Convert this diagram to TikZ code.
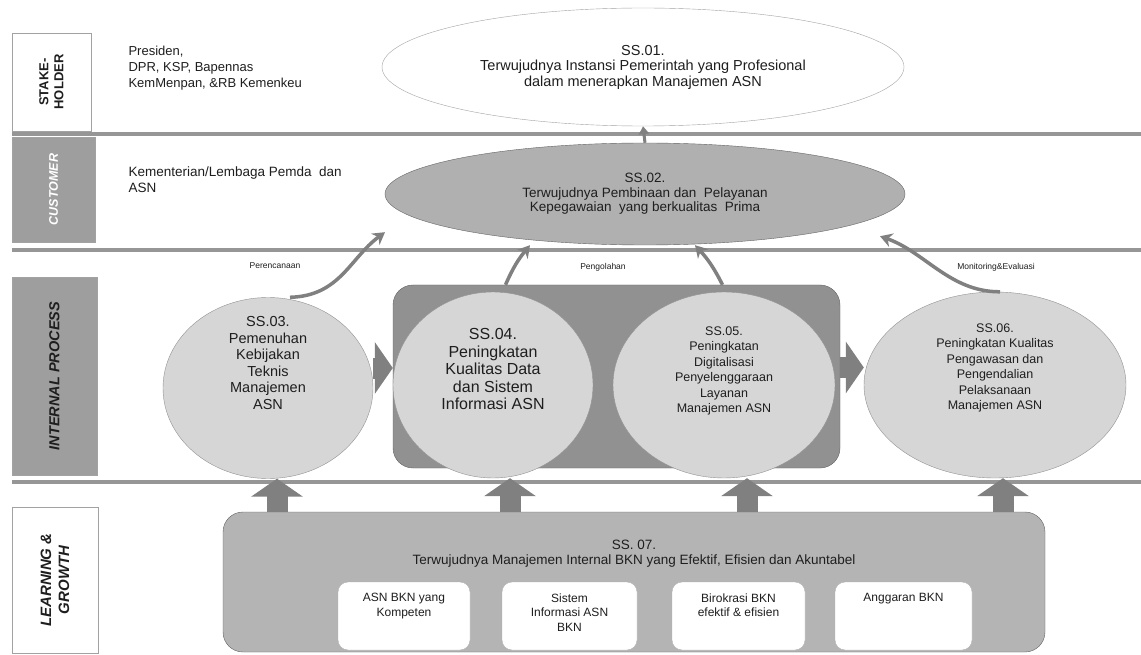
\documentclass[tikz,border=0pt]{standalone}
\usepackage{fontspec}
\setmainfont{Liberation Sans}
\usepackage{tikz}
\usetikzlibrary{shapes.geometric,arrows.meta,positioning,calc}
\definecolor{bandgray}{RGB}{150,150,150}
\definecolor{tabgray}{RGB}{158,158,158}
\definecolor{ovalgray}{RGB}{176,176,176}
\definecolor{bubblegray}{RGB}{214,214,214}
\definecolor{groupgray}{RGB}{145,145,145}
\definecolor{basegray}{RGB}{180,180,180}
\definecolor{edgegray}{RGB}{100,100,100}
\definecolor{arrowgray}{RGB}{128,128,128}
\definecolor{inkgray}{RGB}{30,30,30}
\tikzset{
  sidetab/.style={rectangle,draw=edgegray!60,fill=#1,rotate=90,align=center,
    font=\bfseries\itshape,text=inkgray,inner sep=1pt},
  bandline/.style={line width=3.5pt,color=bandgray},
  goaloval/.style={ellipse,draw=edgegray,fill=#1,align=center,inner sep=0pt,
    text=inkgray},
  bubble/.style={ellipse,draw=edgegray!70,fill=bubblegray,inner sep=0pt},
  bubbletext/.style={align=center,text=inkgray,inner sep=0pt},
  groupbox/.style={rectangle,rounded corners=20pt,draw=edgegray,fill=groupgray},
  basebox/.style={rectangle,rounded corners=20pt,draw=edgegray,fill=basegray},
  pillarbox/.style={rectangle,rounded corners=10pt,draw=edgegray!50,fill=white,
    minimum height=68pt},
  pillartext/.style={align=center,font=\fontsize{12}{14.5}\selectfont,text=inkgray},
  blockarrow/.style={-{Triangle[length=18pt,width=51pt]},line width=21pt,
    color=arrowgray},
  flowarrow/.style={-{Stealth[length=12pt,width=14pt]},line width=3.5pt,
    color=arrowgray},
  flowlabel/.style={font=\fontsize{8.5}{9}\selectfont,text=inkgray},
}
\begin{document}
\begin{tikzpicture}[x=1pt,y=-1pt]
\path[use as bounding box,fill=white] (0,0) rectangle (1141,655);

% ── Perspective tabs (left column) ───────────────────────────────────────
\node[sidetab=white, minimum width=98pt, minimum height=79pt,
      font=\fontsize{13}{15}\selectfont\bfseries] (stake) at (51.5,82) {STAKE-\\HOLDER};
\node[sidetab=tabgray, minimum width=105pt, minimum height=83pt, text=white,
      font=\fontsize{12.5}{14}\selectfont\bfseries\itshape] (cust) at (53.5,189.5) {CUSTOMER};
\node[sidetab=tabgray, minimum width=198pt, minimum height=85pt,
      font=\fontsize{14.5}{16}\selectfont\bfseries\itshape] (intern) at (54.5,376) {INTERNAL PROCESS};
\node[sidetab=white, minimum width=146pt, minimum height=86pt,
      font=\fontsize{15}{18}\selectfont\bfseries\itshape] (learn) at (55,580) {LEARNING \&\\GROWTH};

% ── Band separators ──────────────────────────────────────────────────────
\foreach \y in {134,250,482}
  \draw[bandline] (12,\y) -- (1141,\y);

% ── Stakeholder / customer lists ─────────────────────────────────────────
\node[anchor=west, align=left, font=\fontsize{13}{16}\selectfont, text=inkgray] (stakelist)
  at (125,68) {Presiden,\\DPR, KSP, Bapennas\\KemMenpan, \&RB Kemenkeu};
\node[anchor=west, align=left, font=\fontsize{13.5}{16}\selectfont, text=inkgray] (custlist)
  at (125,180) {Kementerian/Lembaga Pemda~ dan\\ASN};

% ── Goal ovals ───────────────────────────────────────────────────────────
\node[goaloval=white, draw=edgegray!60, minimum width=522pt, minimum height=118pt,
      font=\fontsize{14.5}{15.5}\selectfont] (ss01) at (643,67)
  {SS.01.\\Terwujudnya Instansi Pemerintah yang Profesional\\dalam menerapkan Manajemen ASN};
\node[goaloval=ovalgray, minimum width=520pt, minimum height=102pt,
      font=\fontsize{13.5}{14.5}\selectfont] (ss02) at (645,194)
  {SS.02.\\Terwujudnya Pembinaan dan~ Pelayanan\\Kepegawaian~ yang berkualitas~ Prima};
\draw[-{Triangle[length=8pt,width=10pt]}, line width=3pt, color=arrowgray] (ss02.north) -- (ss01.south);

% ── Internal process bubbles ─────────────────────────────────────────────
\node[groupbox, minimum width=447pt, minimum height=183pt] (grp) at (616.5,376.5) {};
\node[bubble, minimum width=210pt, minimum height=181pt] (ss03) at (268,388) {};
\node[bubble, minimum width=200pt, minimum height=186pt] (ss04) at (493,385) {};
\node[bubble, minimum width=222pt, minimum height=186pt] (ss05) at (724,385) {};
\node[bubble, minimum width=262pt, minimum height=186pt] (ss06) at (995,385) {};

\node[bubbletext, font=\fontsize{14.5}{16.5}\selectfont] (ss03txt) at ([yshift=25pt]ss03.center)
  {SS.03.\\Pemenuhan\\Kebijakan\\Teknis\\Manajemen\\ASN};
\node[bubbletext, font=\fontsize{16}{17.5}\selectfont] (ss04txt) at ([yshift=16pt]ss04.center)
  {SS.04.\\Peningkatan\\Kualitas Data\\dan Sistem\\Informasi ASN};
\node[bubbletext, font=\fontsize{12.5}{15.5}\selectfont] (ss05txt) at ([yshift=14pt]ss05.center)
  {SS.05.\\Peningkatan\\Digitalisasi\\Penyelenggaraan\\Layanan\\Manajemen ASN};
\node[bubbletext, font=\fontsize{12.5}{15.5}\selectfont] (ss06txt) at ([yshift=17pt]ss06.center)
  {SS.06.\\Peningkatan Kualitas\\Pengawasan dan\\Pengendalian\\Pelaksanaan\\Manajemen ASN};

\draw[blockarrow] ([yshift=20pt]ss03.east) -- ([yshift=20pt]ss03.east -| grp.west);
\draw[blockarrow] ([yshift=9pt]grp.east) -- ([yshift=9pt]grp.east -| ss06.west);

% ── Flows up to SS.02 ────────────────────────────────────────────────────
\draw[flowarrow] ([xshift=22pt]ss03.north) .. controls (340,296) and (350,258)
  .. ([shift={(-260pt,13pt)}]ss02.south);
\draw[flowarrow] ([xshift=-111pt]grp.north) to[bend left=8] ([xshift=-115pt]ss02.south);
\draw[flowarrow] ([xshift=106pt]grp.north) to[bend right=8] ([xshift=50pt]ss02.south);
\draw[flowarrow] ([xshift=5pt]ss06.north) .. controls (950,292) and (925,252)
  .. ([shift={(235pt,9pt)}]ss02.south);

\node[flowlabel] (lblplan) at (275,266) {Perencanaan};
\node[flowlabel] (lblproc) at (603,267) {Pengolahan};
\node[flowlabel] (lblmon)  at (996,267) {Monitoring\&Evaluasi};

% ── Learning & growth base ───────────────────────────────────────────────
\node[basebox, minimum width=822pt, minimum height=140pt] (lg) at (634,582) {};
\node[align=center, font=\fontsize{13.5}{15}\selectfont, text=inkgray] (lgtitle) at (634,554)
  {SS. 07.\\Terwujudnya Manajemen Internal BKN yang Efektif, Efisien dan Akuntabel};

\node[pillarbox, minimum width=132pt] (b1) at (404,616) {};
\node[pillarbox, minimum width=135pt] (b2) at (569.5,616) {};
\node[pillarbox, minimum width=133pt] (b3) at (738.5,616) {};
\node[pillarbox, minimum width=137pt] (b4) at (903.5,616) {};
\node[pillartext, below=8pt of b1.north] (t1) {ASN BKN yang\\Kompeten};
\node[pillartext, below=8pt of b2.north] (t2) {Sistem\\Informasi ASN\\BKN};
\node[pillartext, below=8pt of b3.north] (t3) {Birokrasi BKN\\efektif \& efisien};
\node[pillartext, below=8pt of b4.north] (t4) {Anggaran BKN};

\foreach \n/\s in {ss03/9, ss04/17, ss05/23, ss06/8}
  \draw[blockarrow] ([xshift=\s pt]\n.south |- lg.north) -- ([xshift=\s pt]\n.south);

\end{tikzpicture}
\end{document}
